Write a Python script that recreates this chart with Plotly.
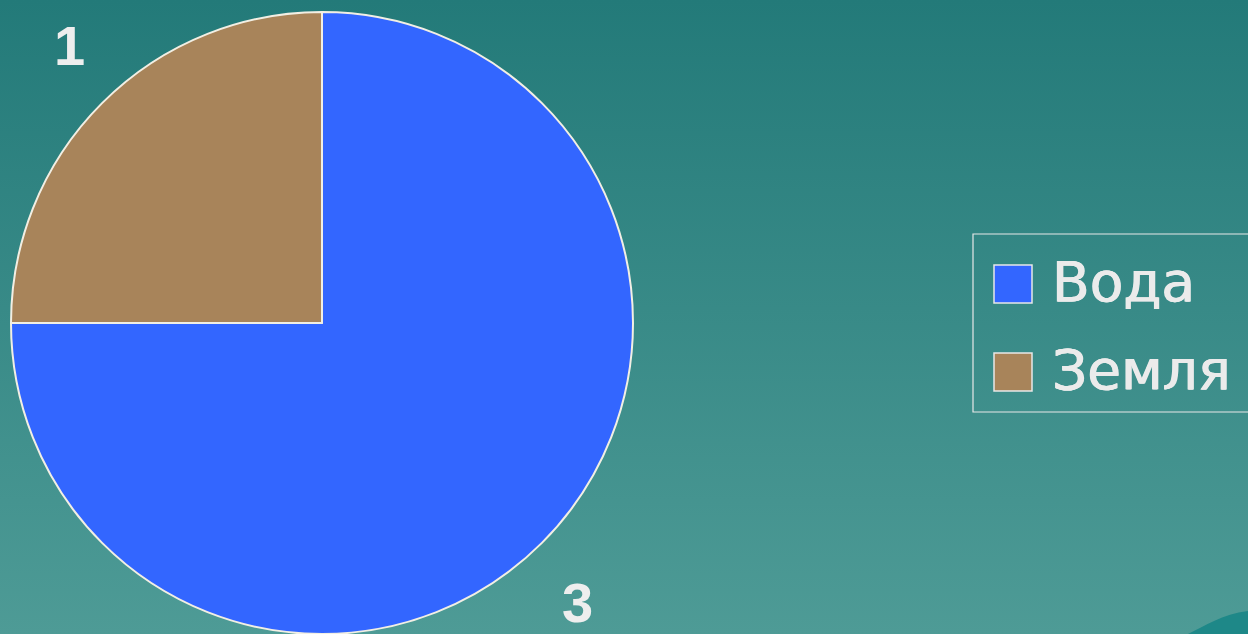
import base64
import plotly.graph_objects as go

# ---- data ----
labels = ["Вода", "Земля"]
values = [3, 1]
colors = ["#3366FF", "#A8845A"]

W, H = 1248, 634

# background gradient as an inline SVG image
svg = (
    '<svg xmlns="http://www.w3.org/2000/svg" width="100" height="100" preserveAspectRatio="none">'
    '<defs><linearGradient id="g" x1="0" y1="0" x2="0" y2="1">'
    '<stop offset="0" stop-color="#237A79"/><stop offset="1" stop-color="#4E9B96"/>'
    '</linearGradient></defs><rect width="100" height="100" fill="url(#g)"/></svg>'
)
bg_uri = "data:image/svg+xml;base64," + base64.b64encode(svg.encode()).decode()

fig = go.Figure()
fig.add_trace(go.Pie(
    labels=labels, values=values, sort=False, direction="clockwise", rotation=0,
    marker=dict(colors=colors, line=dict(color="#F2EFE4", width=2)),
    textinfo="none", hoverinfo="label+value", showlegend=False,
    domain=dict(x=[11 / W, 633 / W], y=[0, 622 / H]),
))

def px(x):
    return x / W

def py(y):
    return 1 - y / H

shapes = []
annotations = []

FONT = "Liberation Sans, Arial"
LEG_FONT = "DejaVu Sans"

# value labels
label_pos = [(577, 602), (69, 45)]
for v, (x, y) in zip(values, label_pos):
    annotations.append(dict(x=px(x), y=py(y), xref="paper", yref="paper", text=f"<b>{v}</b>",
                            showarrow=False, font=dict(family=FONT, size=56, color="#EEEEEE"),
                            xanchor="center", yanchor="middle"))

# legend box
shapes.append(dict(type="rect", xref="paper", yref="paper", x0=px(973), x1=px(1260), y0=py(412), y1=py(234),
                   line=dict(color="#E8E8E8", width=1.2), fillcolor="rgba(0,0,0,0)"))
for i, (lab, col) in enumerate(zip(labels, colors)):
    top = 265 + i * 88
    shapes.append(dict(type="rect", xref="paper", yref="paper", x0=px(994), x1=px(1032),
                       y0=py(top + 38), y1=py(top), fillcolor=col, line=dict(color="#E8E8E8", width=1.5)))
    annotations.append(dict(x=px(1050), y=py(top + 17), xref="paper", yref="paper", text=lab,
                            showarrow=False,
                            font=dict(family=LEG_FONT, size=55, color="#EBEBEB",
                                      shadow="0.6px 0 0 #EBEBEB, -0.6px 0 0 #EBEBEB"),
                            xanchor="left", yanchor="middle"))

# decorative corner shape
shapes.append(dict(type="path", xref="paper", yref="paper",
                   path=f"M {px(1188)},{py(634)} C {px(1205)},{py(626)} {px(1222)},{py(614)} {px(1248)},{py(611)} L {px(1248)},{py(634)} Z",
                   fillcolor="#1E8888", line=dict(width=0), layer="below"))

fig.update_layout(
    width=W, height=H, margin=dict(l=0, r=0, t=0, b=0),
    paper_bgcolor="#3A8A86", plot_bgcolor="rgba(0,0,0,0)",
    images=[dict(source=bg_uri, xref="paper", yref="paper", x=0, y=1, sizex=1, sizey=1,
                 sizing="stretch", xanchor="left", yanchor="top", layer="below")],
    shapes=shapes, annotations=annotations,
    xaxis=dict(visible=False), yaxis=dict(visible=False),
)

fig.write_html("out.html")
